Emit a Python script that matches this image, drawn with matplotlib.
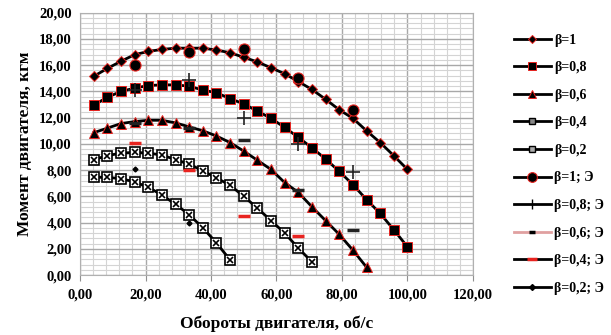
import matplotlib
matplotlib.use("Agg")
import matplotlib.pyplot as plt
from matplotlib.lines import Line2D
from matplotlib.ticker import MultipleLocator, FuncFormatter

plt.rcParams['font.family'] = ['Liberation Serif', 'DejaVu Serif']
plt.rcParams['font.weight'] = 'bold'

# обороты, об/с
n = [4.17, 8.33, 12.50, 16.67, 20.83, 25.00, 29.17, 33.33, 37.50, 41.67, 45.83, 50.00,
     54.17, 58.33, 62.50, 66.67, 70.83, 75.00, 79.17, 83.33, 87.50, 91.67, 95.83, 100.00]

# расчет
m_10 = [15.15, 15.75, 16.3, 16.8, 17.05, 17.2, 17.3, 17.3, 17.3, 17.15, 16.95, 16.6,
        16.25, 15.8, 15.35, 14.75, 14.15, 13.4, 12.6, 11.95, 11.0, 10.1, 9.1, 8.05]
m_08 = [12.95, 13.55, 14.0, 14.25, 14.45, 14.5, 14.5, 14.4, 14.1, 13.9, 13.45, 13.05,
        12.5, 11.95, 11.25, 10.5, 9.7, 8.85, 7.9, 6.9, 5.75, 4.7, 3.45, 2.15]
m_06 = [10.85, 11.2, 11.55, 11.7, 11.8, 11.8, 11.6, 11.3, 11.0, 10.6, 10.1, 9.45,
        8.75, 8.05, 7.05, 6.3, 5.2, 4.15, 3.1, 1.9, 0.6]
m_04 = [8.8, 9.1, 9.3, 9.35, 9.3, 9.15, 8.8, 8.45, 7.95, 7.4, 6.85, 6.0,
        5.1, 4.15, 3.2, 2.05, 1.0]
m_02 = [7.45, 7.45, 7.35, 7.1, 6.7, 6.1, 5.4, 4.6, 3.6, 2.45, 1.15]

# эксперимент
n_e = [16.67, 33.33, 50.00, 66.67, 83.33]
e_10 = [16.05, 17.0, 17.25, 15.0, 12.55]
e_08 = [14.1, 14.9, 12.0, 10.0, 7.85]
e_06 = [11.6, 11.2, 10.3, 6.5, 3.45]
e_04 = [10.1, 8.0, 4.5, 2.95]
e_02 = [8.1, 4.0]

labels = ['β=1', 'β=0,8', 'β=0,6', 'β=0,4', 'β=0,2',
          'β=1; Э', 'β=0,8; Э', 'β=0,6; Э', 'β=0,4; Э', 'β=0,2; Э']

fig = plt.figure(figsize=(6.11, 3.35), dpi=100)
ax = fig.add_axes([0.131, 0.179, 0.643, 0.783])

red = '#e8231f'
lw = 2.0
ax.plot(n, m_10, color='black', lw=lw, marker='D', ms=5, mfc='black', mec=red, mew=0.7, zorder=3)
ax.plot(n[:len(m_08)], m_08, color='black', lw=lw, marker='s', ms=6.5, mfc='black', mec=red, mew=0.7, zorder=3)
ax.plot(n[:len(m_06)], m_06, color='black', lw=lw, marker='^', ms=6.5, mfc='black', mec=red, mew=0.7, zorder=3)
for m in (m_04, m_02):
    ax.plot(n[:len(m)], m, color='black', lw=lw, marker='s', ms=6.5, mfc='white', mec='black', mew=1.2, zorder=3)
    ax.plot(n[:len(m)], m, ls='none', marker='x', ms=5, mec='black', mew=1.2, zorder=4)

ax.plot(n_e, e_10, ls='none', marker='o', ms=8, mfc='black', mec=red, mew=0.8, zorder=5)
ax.plot(n_e, e_08, ls='none', marker='+', ms=10, mec='#222222', mew=1.2, zorder=5)
ax.plot(n_e, e_06, ls='none', marker='_', ms=8, mec='#222222', mew=2.5, zorder=5)
ax.plot(n_e[:len(e_04)], e_04, ls='none', marker='_', ms=9, mec=red, mew=2.5, zorder=5)
ax.plot(n_e[:len(e_02)], e_02, ls='none', marker='D', ms=2.5, mfc='black', mec='black', zorder=5)

ax.set_xlim(0, 120)
ax.set_ylim(0, 20)
ax.xaxis.set_major_locator(MultipleLocator(20))
ax.xaxis.set_minor_locator(MultipleLocator(4))
ax.yaxis.set_major_locator(MultipleLocator(2))
ax.yaxis.set_minor_locator(MultipleLocator(0.4))
fmt = FuncFormatter(lambda v, p: f'{v:.2f}'.replace('.', ','))
ax.xaxis.set_major_formatter(fmt)
ax.yaxis.set_major_formatter(fmt)
ax.grid(which='major', color='#a8a8a8', lw=1.0)
ax.grid(which='minor', color='#d4d4d4', lw=0.8)
ax.set_axisbelow(True)
for s in ax.spines.values():
    s.set_color('#b0b0b0')
ax.tick_params(which='both', length=0, labelsize=10.5, pad=6)
ax.tick_params(axis='x', which='major', length=4, color='#909090')
for t in ax.get_xticklabels() + ax.get_yticklabels():
    t.set_fontweight('bold')

ax.set_xlabel('Обороты двигателя, об/с', fontsize=12.5, fontweight='bold', labelpad=10)
ax.set_ylabel('Момент двигателя, кгм', fontsize=12.5, fontweight='bold', labelpad=4)

handles = [
    Line2D([], [], color='black', lw=lw, marker='D', ms=4, mfc='black', mec=red, mew=0.7),
    Line2D([], [], color='black', lw=lw, marker='s', ms=6, mfc='black', mec=red, mew=0.7),
    Line2D([], [], color='black', lw=lw, marker='^', ms=6, mfc='black', mec=red, mew=0.7),
    Line2D([], [], color='black', lw=lw, marker='s', ms=5, mfc='#888888', mec='black'),
    Line2D([], [], color='black', lw=lw, marker='s', ms=5, mfc='#aaaaaa', mec='black'),
    Line2D([], [], color='black', lw=lw, marker='o', ms=7, mfc='black', mec=red, mew=0.8),
    Line2D([], [], color='black', lw=lw, marker='|', ms=7, mec='black'),
    Line2D([], [], color='#e0a0a0', lw=lw, marker='_', ms=5, mec='black', mew=2.5),
    Line2D([], [], color='black', lw=lw, marker='_', ms=7, mec=red, mew=2.5),
    Line2D([], [], color='black', lw=lw, marker='D', ms=3, mfc='black', mec='black'),
]
leg = fig.legend(handles, labels, loc='center left', bbox_to_anchor=(0.82, 0.51),
                 frameon=False, fontsize=10, handlelength=2.7, handletextpad=0.2,
                 labelspacing=1.05)
for t in leg.get_texts():
    t.set_fontweight('bold')

fig.savefig('out.png', dpi=100)
